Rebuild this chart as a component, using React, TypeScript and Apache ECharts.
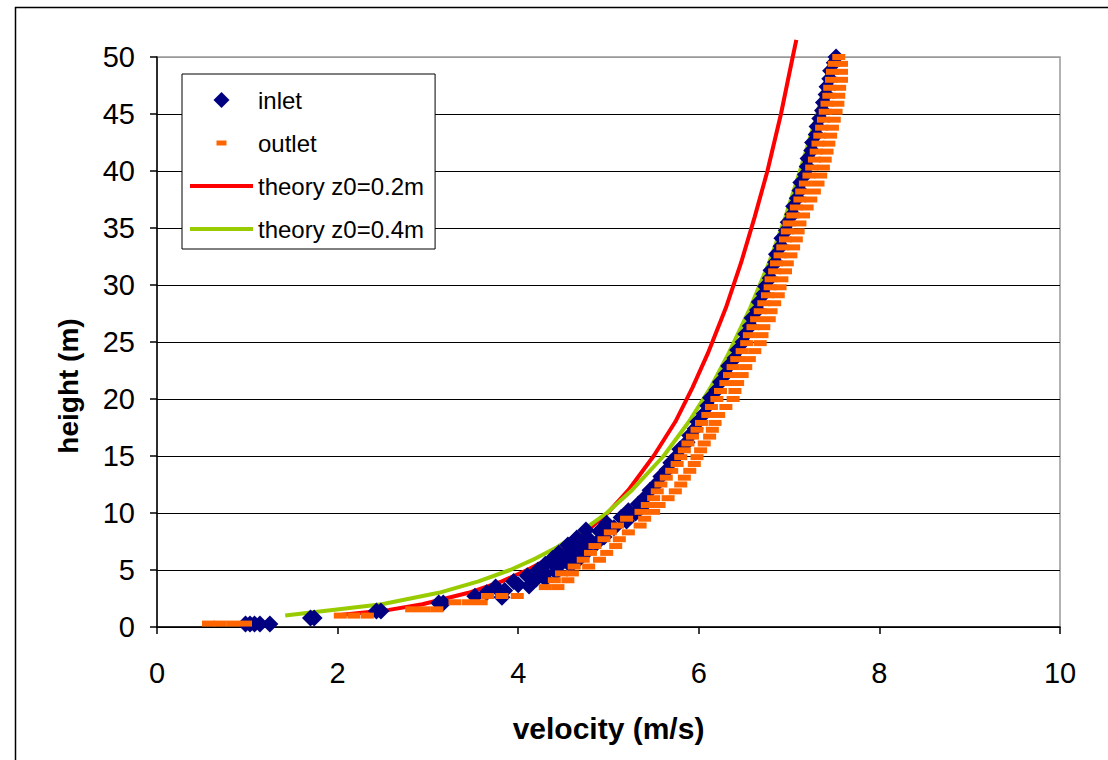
import React, { useEffect, useRef } from "react";
import * as echarts from "echarts";

const FONT = "'Liberation Sans', Arial, sans-serif";

const seriesNames = ["inlet", "outlet", "theory z0=0.2m", "theory z0=0.4m"];
const xTitle = "velocity (m/s)";
const yTitle = "height (m)";

// [velocity (m/s), height (m)]
const inletPoints: [number, number][] = [
  [0.98, 0.26], [1.03, 0.26], [1.08, 0.26], [1.14, 0.26], [1.25, 0.26],
  [1.7, 0.8], [1.74, 0.8],
  [2.43, 1.4], [2.48, 1.4],
  [3.12, 2.1], [3.17, 2.1],
  [3.52, 2.7], [3.82, 2.6],
  [3.85, 3.2], [4.0, 3.7], [4.2, 4.2], [4.3, 4.7], [4.43, 5.2], [4.47, 5.7],
  [4.56, 6.2], [4.6, 6.7], [4.7, 7.2], [4.77, 7.8], [4.9, 8.4], [4.98, 9.0],
  [5.14, 9.6], [5.22, 10.2], [5.33, 10.8], [5.41, 11.4], [5.46, 12.0],
  [5.54, 12.6], [5.58, 13.2], [5.65, 13.8], [5.69, 14.4], [5.76, 15.0],
  [5.79, 15.6], [5.87, 16.2], [5.9, 16.8], [5.96, 17.4], [5.99, 18.0],
  [6.06, 18.7], [6.1, 19.4], [6.13, 20.1], [6.2, 20.8], [6.24, 21.5],
  [6.3, 22.2], [6.33, 22.9], [6.4, 23.6], [6.43, 24.3], [6.49, 25.0],
  [6.52, 25.7], [6.57, 26.4], [6.59, 27.1], [6.65, 27.8], [6.67, 28.5],
  [6.72, 29.2], [6.74, 29.9], [6.79, 30.6], [6.8, 31.3], [6.85, 32.0],
  [6.86, 32.7], [6.91, 33.4], [6.92, 34.1], [6.97, 34.8], [6.99, 35.5],
  [7.04, 36.2], [7.05, 36.9], [7.09, 37.6], [7.12, 38.3], [7.13, 39.0],
  [7.18, 39.7], [7.2, 40.4], [7.21, 41.1], [7.25, 41.8], [7.26, 42.5],
  [7.3, 43.2], [7.31, 43.9], [7.34, 44.6], [7.37, 45.3], [7.38, 46.0],
  [7.41, 46.7], [7.42, 47.4], [7.45, 48.1], [7.46, 48.8], [7.5, 49.5],
  [7.52, 50.0],
  [3.65, 3.0], [3.75, 3.5], [3.95, 4.0], [4.1, 4.5], [4.22, 5.0], [4.3, 5.5],
  [4.38, 6.0], [4.45, 6.5], [4.55, 7.2], [4.65, 7.8], [4.75, 8.5], [4.98, 9.1],
  [4.12, 3.6], [4.3, 4.2], [4.42, 4.8], [4.58, 5.4], [4.68, 6.0], [4.76, 6.6],
  [4.86, 7.3], [4.95, 7.9], [5.06, 8.7], [5.2, 9.3], [5.3, 10.0], [5.38, 10.6]
];

const outletPoints: [number, number][] = [
  [0.57, 0.3], [0.7, 0.3], [0.84, 0.3], [0.98, 0.3],
  [2.03, 1.0], [2.18, 1.0], [2.33, 1.0],
  [2.82, 1.55], [2.96, 1.55], [3.1, 1.55],
  [3.3, 2.17], [3.45, 2.17], [3.59, 2.17],
  [3.66, 2.72], [3.82, 2.72], [3.99, 2.72],
  [4.3, 3.5], [4.44, 3.5], [4.4, 4.1], [4.55, 4.1], [4.48, 4.7], [4.6, 4.7],
  [4.62, 5.3], [4.78, 5.3], [4.72, 5.9], [4.9, 5.9], [4.8, 6.5], [4.98, 6.5],
  [4.85, 7.1], [5.08, 7.1], [4.95, 7.7], [5.12, 7.7], [5.02, 8.3], [5.22, 8.3],
  [5.1, 8.9], [5.35, 8.9], [5.2, 9.5], [5.4, 9.5], [5.36, 10.1], [5.5, 10.1],
  [5.43, 10.7], [5.56, 10.7], [5.5, 11.3], [5.66, 11.3], [5.54, 11.9], [5.74, 11.9],
  [5.58, 12.5], [5.8, 12.5], [5.64, 13.1], [5.84, 13.1], [5.7, 13.7], [5.9, 13.7],
  [5.76, 14.3], [5.95, 14.3], [5.8, 14.9], [5.98, 14.9], [5.84, 15.5], [6.02, 15.5],
  [5.88, 16.1], [6.06, 16.1], [5.93, 16.7], [6.12, 16.7], [5.98, 17.3], [6.15, 17.3],
  [6.03, 17.9], [6.18, 17.9], [6.1, 18.6], [6.22, 18.6], [6.14, 19.3], [6.3, 19.3],
  [6.2, 20.0], [6.38, 20.0], [6.24, 20.7], [6.4, 20.7], [6.3, 21.4], [6.43, 21.4],
  [6.34, 22.1], [6.48, 22.1], [6.38, 22.8], [6.52, 22.8], [6.42, 23.5], [6.56, 23.5],
  [6.48, 24.2], [6.62, 24.2], [6.53, 24.9], [6.68, 24.9], [6.56, 25.6], [6.7, 25.6],
  [6.6, 26.3], [6.72, 26.3], [6.64, 27.0], [6.78, 27.0], [6.68, 27.7], [6.8, 27.7],
  [6.72, 28.4], [6.84, 28.4], [6.76, 29.1], [6.88, 29.1], [6.79, 29.8], [6.9, 29.8],
  [6.8, 30.5], [6.92, 30.5], [6.84, 31.2], [6.96, 31.2], [6.86, 31.9], [6.98, 31.9],
  [6.9, 32.6], [7.02, 32.6], [6.93, 33.3], [7.05, 33.3], [6.96, 34.0], [7.08, 34.0],
  [6.98, 34.7], [7.1, 34.7], [7.0, 35.4], [7.12, 35.4], [7.04, 36.1], [7.16, 36.1],
  [7.08, 36.8], [7.2, 36.8], [7.12, 37.5], [7.24, 37.5], [7.14, 38.2], [7.28, 38.2],
  [7.18, 38.9], [7.32, 38.9], [7.22, 39.6], [7.35, 39.6], [7.25, 40.3], [7.38, 40.3],
  [7.28, 41.0], [7.4, 41.0], [7.3, 41.7], [7.42, 41.7], [7.32, 42.4], [7.44, 42.4],
  [7.34, 43.1], [7.46, 43.1], [7.36, 43.8], [7.48, 43.8], [7.38, 44.5], [7.5, 44.5],
  [7.4, 45.2], [7.52, 45.2], [7.42, 45.9], [7.54, 45.9], [7.44, 46.6], [7.55, 46.6],
  [7.45, 47.3], [7.56, 47.3], [7.47, 48.0], [7.58, 48.0], [7.48, 48.7], [7.58, 48.7],
  [7.5, 49.4], [7.58, 49.4], [7.55, 50.0]
];

const theory02: [number, number][] = [
  [1.97, 1.0], [2.57, 1.5], [2.94, 2.0], [3.45, 3.0], [3.82, 4.0], [4.1, 5.0],
  [4.34, 6.0], [4.53, 7.0], [4.7, 8.0], [4.99, 10.0], [5.22, 12.0], [5.5, 15.0],
  [5.74, 18.0], [5.93, 21.0], [6.1, 24.0], [6.3, 28.0], [6.47, 32.0], [6.62, 36.0],
  [6.76, 40.0], [6.91, 45.0], [7.04, 50.0], [7.08, 51.5]
];

const theory04: [number, number][] = [
  [1.42, 1.0], [2.49, 2.0], [3.12, 3.0], [3.56, 4.0], [3.91, 5.0], [4.19, 6.0],
  [4.43, 7.0], [4.63, 8.0], [4.98, 10.0], [5.26, 12.0], [5.61, 15.0], [5.89, 18.0],
  [6.13, 21.0], [6.33, 24.0], [6.57, 28.0], [6.78, 32.0], [6.96, 36.0], [7.12, 40.0],
  [7.31, 45.0], [7.47, 50.0]
];

const gridLineColors = ["#000", "#000", "#000", "#000", "#000", "#000", "#000", "#000", "#000", "#000", "#999"];

export default function App() {
  const ref = useRef<HTMLDivElement>(null);
  useEffect(() => {
    if (!ref.current) return;
    const chart = echarts.init(ref.current, undefined, { renderer: "svg" });
    const axisText = { fontFamily: FONT, fontSize: 29, color: "#000" };
    chart.setOption({
      animation: false,
      backgroundColor: "#fff",
      textStyle: { fontFamily: FONT },
      graphic: [
        {
          type: "rect",
          shape: { x: 15.5, y: 7.5, width: 1200, height: 800 },
          style: { fill: "none", stroke: "#000", lineWidth: 1.5 },
          z: -10,
          silent: true
        },
        {
          type: "text",
          x: 68, y: 386, rotation: Math.PI / 2,
          style: {
            text: yTitle, fill: "#000",
            font: "bold 28px " + FONT,
            textAlign: "center", textVerticalAlign: "middle"
          },
          silent: true
        }
      ],
      grid: {
        left: 157, top: 57, right: 48, bottom: 133,
        show: true, borderColor: "#999", borderWidth: 1.5, backgroundColor: "transparent"
      },
      legend: {
        orient: "vertical",
        left: 182, top: 74,
        padding: [11, 11, 5, 8],
        itemGap: 13,
        itemWidth: 63, itemHeight: 16,
        backgroundColor: "#fff",
        borderColor: "#000", borderWidth: 1,
        itemStyle: { borderWidth: 0, opacity: 1 },
        textStyle: { fontFamily: FONT, fontSize: 24, color: "#000", lineHeight: 30 },
        data: [
          { name: seriesNames[0], icon: "path://M0,0M63,16M31.5,0L39.5,8L31.5,16L23.5,8Z" },
          { name: seriesNames[1], icon: "path://M0,0M63,16M26.5,5.5h10v5h-10z" },
          { name: seriesNames[2], icon: "path://M0,0M63,16M0,6h63v4h-63z" },
          { name: seriesNames[3], icon: "path://M0,0M63,16M0,6h63v4h-63z" }
        ]
      },
      xAxis: {
        type: "value", min: 0, max: 10, interval: 2,
        name: xTitle, nameLocation: "middle", nameGap: 86,
        nameTextStyle: { ...axisText, fontSize: 30, fontWeight: "bold" },
        axisLine: { show: true, onZero: false, lineStyle: { color: "#000", width: 1.5 } },
        axisTick: { show: true, length: 7, lineStyle: { color: "#000", width: 1.5 } },
        axisLabel: { ...axisText, margin: 31 },
        splitLine: { show: false }
      },
      yAxis: {
        type: "value", min: 0, max: 50, interval: 5,
        axisLine: { show: true, onZero: false, lineStyle: { color: "#000", width: 1.5 } },
        axisTick: { show: true, length: 7, lineStyle: { color: "#000", width: 1.5 } },
        axisLabel: { ...axisText, margin: 22 },
        splitLine: { show: true, lineStyle: { color: gridLineColors, width: 1 } }
      },
      series: [
        {
          name: seriesNames[0], type: "scatter", data: inletPoints,
          symbol: "diamond", symbolSize: 17, z: 3,
          itemStyle: { color: "#000080", opacity: 1 }
        },
        {
          name: seriesNames[1], type: "scatter", data: outletPoints,
          symbol: "rect", symbolSize: [13, 6], z: 4,
          itemStyle: { color: "#FF6600", opacity: 1 }
        },
        {
          name: seriesNames[2], type: "line", data: theory02,
          showSymbol: false, symbol: "none", clip: false, z: 2,
          lineStyle: { color: "#FF0000", width: 4 }, itemStyle: { color: "#FF0000" }
        },
        {
          name: seriesNames[3], type: "line", data: theory04,
          showSymbol: false, symbol: "none", z: 2,
          lineStyle: { color: "#99CC00", width: 4 }, itemStyle: { color: "#99CC00" }
        }
      ]
    });
    return () => chart.dispose();
  }, []);
  return (
    <div
      ref={ref}
      style={{ position: "fixed", left: 0, top: 0, width: 1108, height: 760, background: "#fff" }}
    />
  );
}
